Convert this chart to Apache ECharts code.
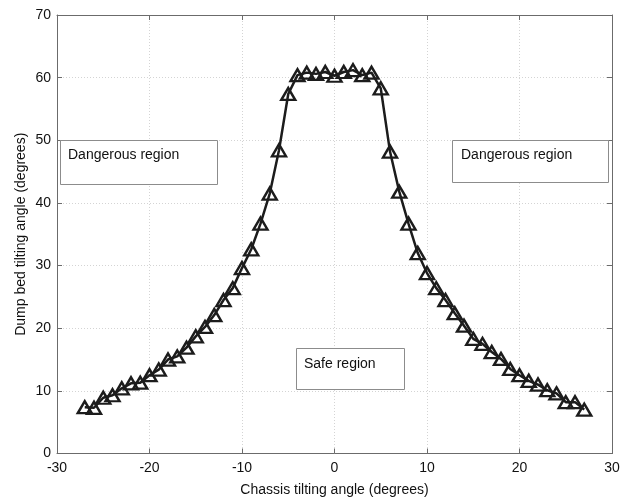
<!DOCTYPE html>
<html>
<head>
<meta charset="utf-8">
<script src="https://cdn.jsdelivr.net/npm/echarts@6/dist/echarts.min.js"></script>
<style>html,body{margin:0;padding:0;background:#fff;}#c{width:628px;height:497px;}</style>
</head>
<body>
<div id="c"></div>
<script>
const chassisAngle = [-27,-26,-25,-24,-23,-22,-21,-20,-19,-18,-17,-16,-15,-14,-13,-12,-11,-10,-9,-8,-7,-6,-5,-4,-3,-2,-1,0,1,2,3,4,5,6,7,8,9,10,11,12,13,14,15,16,17,18,19,20,21,22,23,24,25,26,27];
const dumpBedAngle = [7.4,7.3,8.9,9.3,10.4,11.2,11.3,12.5,13.4,15.0,15.5,16.9,18.7,20.2,22.1,24.5,26.4,29.6,32.6,36.7,41.5,48.4,57.4,60.4,60.8,60.6,60.9,60.3,60.9,61.2,60.4,60.8,58.3,48.2,41.8,36.7,32.0,28.8,26.4,24.5,22.4,20.4,18.3,17.5,16.2,15.1,13.5,12.5,11.6,11.0,10.1,9.6,8.2,8.2,7.0];
const xTicks = [-30,-20,-10,0,10,20,30];
const yTicks = [0,10,20,30,40,50,60,70];
const regionLabels = ["Dangerous region","Dangerous region","Safe region"];

const FONT = "Liberation Sans, Arial, sans-serif";
const chart = echarts.init(document.getElementById('c'));
const lineSt = {color:'#6b6b6b',width:1};
const tick = {inside:true,length:5,lineStyle:{color:'#6b6b6b'}};
function box(x,y,w,h,label,tx,ty){
  return {type:'group',children:[
    {type:'rect',shape:{x:x+0.5,y:y+0.5,width:w,height:h},style:{fill:'#fff',stroke:'#8c8c8c',lineWidth:1},z:10},
    {type:'text',x:tx,y:ty,style:{text:label,fill:'#111',font:'14px '+FONT,textVerticalAlign:'middle'},z:11}
  ]};
}
chart.setOption({
  animation:false,
  backgroundColor:'#fff',
  grid:{left:57,right:16,top:15,bottom:43.5,containLabel:false,outerBoundsMode:'none'},
  xAxis:[{
    type:'value',position:'bottom',min:xTicks[0],max:xTicks[xTicks.length-1],interval:10,
    name:'Chassis tilting angle (degrees)',nameLocation:'middle',nameGap:30,
    nameTextStyle:{fontFamily:FONT,fontSize:14,color:'#111'},
    axisLine:{show:true,onZero:false,lineStyle:lineSt},axisTick:tick,
    axisLabel:{fontFamily:FONT,fontSize:14,color:'#111',margin:8},
    splitLine:{show:true,lineStyle:{color:'#d4d4d4',type:[1,2],width:1}}
  },{
    type:'value',position:'top',min:xTicks[0],max:xTicks[xTicks.length-1],interval:10,
    axisLine:{show:true,onZero:false,lineStyle:lineSt},axisTick:tick,
    axisLabel:{show:false},splitLine:{show:false}
  }],
  yAxis:[{
    type:'value',position:'left',min:yTicks[0],max:yTicks[yTicks.length-1],interval:10,
    name:'Dump bed tilting angle (degrees)',nameLocation:'middle',nameGap:29,nameMoveOverlap:false,
    nameTextStyle:{fontFamily:FONT,fontSize:14,color:'#111'},
    axisLine:{show:true,onZero:false,lineStyle:lineSt},axisTick:tick,
    axisLabel:{fontFamily:FONT,fontSize:14,color:'#111',margin:6},
    splitLine:{show:true,lineStyle:{color:'#d4d4d4',type:[1,2],width:1}}
  },{
    type:'value',position:'right',min:yTicks[0],max:yTicks[yTicks.length-1],interval:10,
    axisLine:{show:true,onZero:false,lineStyle:lineSt},axisTick:tick,
    axisLabel:{show:false},splitLine:{show:false}
  }],
  graphic:[
    box(60,140,157,44,regionLabels[0],68,155),
    box(452,140,156,42,regionLabels[1],461,155),
    box(296,348,108,41,regionLabels[2],304,364)
  ],
  series:[{
    type:'line',xAxisIndex:0,yAxisIndex:0,
    data:chassisAngle.map((x,i)=>[x,dumpBedAngle[i]]),
    symbol:'triangle',symbolSize:[14,12],
    lineStyle:{color:'#1c1c1c',width:2.5},
    itemStyle:{color:'rgba(0,0,0,0)',borderColor:'#1c1c1c',borderWidth:2.4},
    z:5
  }]
});
</script>
</body>
</html>
